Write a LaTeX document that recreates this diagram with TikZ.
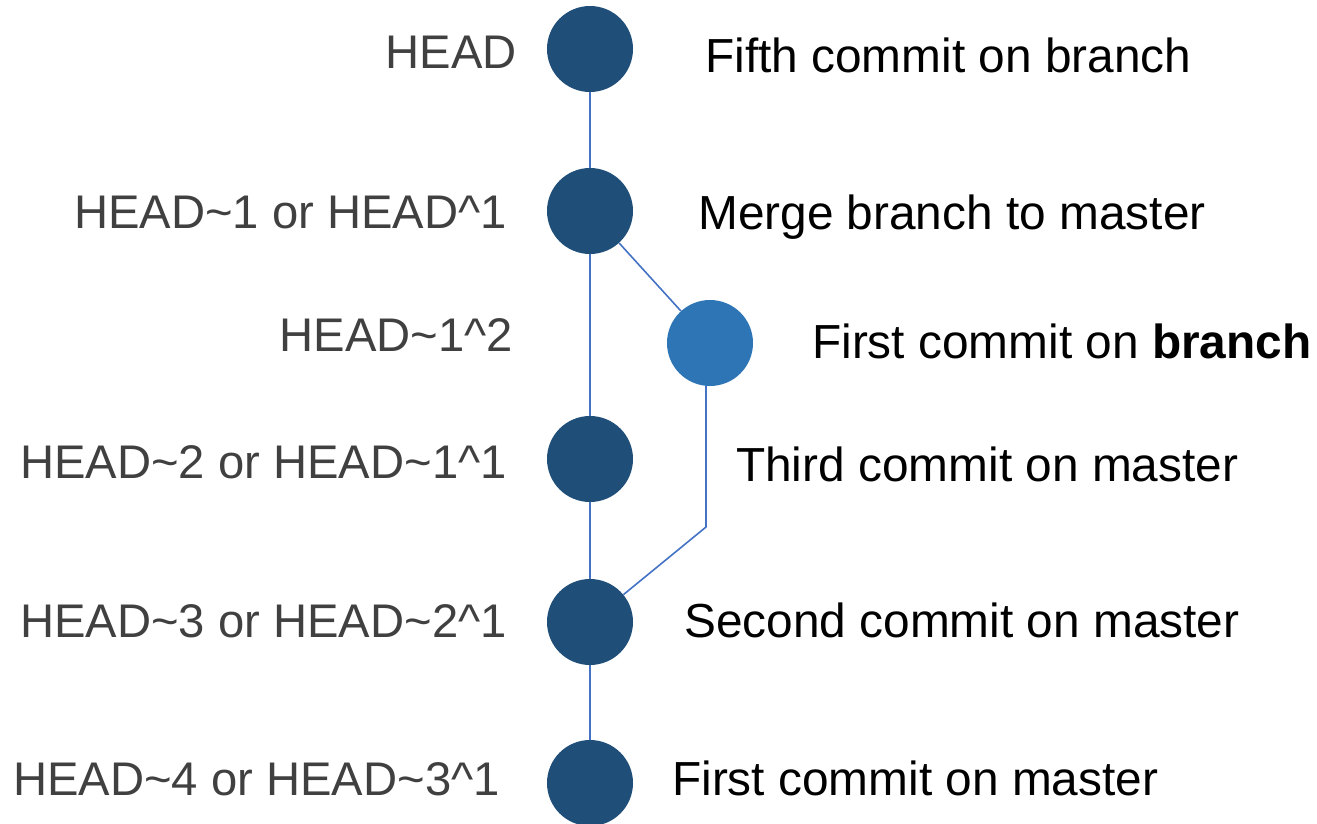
\documentclass[tikz,border=0pt]{standalone}
\usepackage{fontspec}
\setmainfont{Liberation Sans}
\definecolor{dark}{HTML}{1F4E79}
\definecolor{light}{HTML}{2E75B6}
\definecolor{edge}{HTML}{4472C4}
\definecolor{lbl}{HTML}{404040}
\begin{document}
\begin{tikzpicture}[x=1pt,y=-1pt,
  commit/.style={circle,fill=dark,draw=none,minimum size=86pt,inner sep=0pt},
  bcommit/.style={commit,fill=light},
  conn/.style={draw=edge,line width=1.6pt},
  lefttext/.style={anchor=base east,inner sep=0pt,text=lbl,font=\fontsize{47.2}{56}\selectfont},
  righttext/.style={anchor=base west,inner sep=0pt,text=black,font=\fontsize{47.8}{56}\selectfont}]
\useasboundingbox[fill=white] (0,0) rectangle (1317,823);
\node[commit] (c1) at (590,49) {};
\node[commit] (c2) at (590,211) {};
\node[bcommit] (b) at (710,343) {};
\node[commit] (c3) at (590,459) {};
\node[commit] (c4) at (590,622) {};
\node[commit] (c5) at (590,783) {};
\coordinate (k) at (706,527);
\draw[conn] (c1) -- (c2);
\draw[conn] (c2) -- (c3);
\draw[conn] (c3) -- (c4);
\draw[conn] (c4) -- (c5);
\draw[conn] (c2) -- (b);
\draw[conn] (b.south -| k) -- (k) -- (c4);
\node[lefttext] (l1) at (517,68) {HEAD};
\node[lefttext] (l2) at (507,228) {HEAD\textasciitilde1 or HEAD\textasciicircum1};
\node[lefttext] (l3) at (513,351) {HEAD\textasciitilde1\textasciicircum2};
\node[lefttext] (l4) at (507,478) {HEAD\textasciitilde2 or HEAD\textasciitilde1\textasciicircum1};
\node[lefttext] (l5) at (507,637) {HEAD\textasciitilde3 or HEAD\textasciitilde2\textasciicircum1};
\node[lefttext] (l6) at (500,795) {HEAD\textasciitilde4 or HEAD\textasciitilde3\textasciicircum1};
\node[righttext] (r1) at (705,72) {Fifth commit on branch};
\node[righttext] (r2) at (698,229) {Merge branch to master};
\node[righttext] (r3) at (812,358) {First commit on \textbf{branch}};
\node[righttext] (r4) at (736,481) {Third commit on master};
\node[righttext] (r5) at (684,637) {Second commit on master};
\node[righttext] (r6) at (672,795) {First commit on master};
\end{tikzpicture}
\end{document}
